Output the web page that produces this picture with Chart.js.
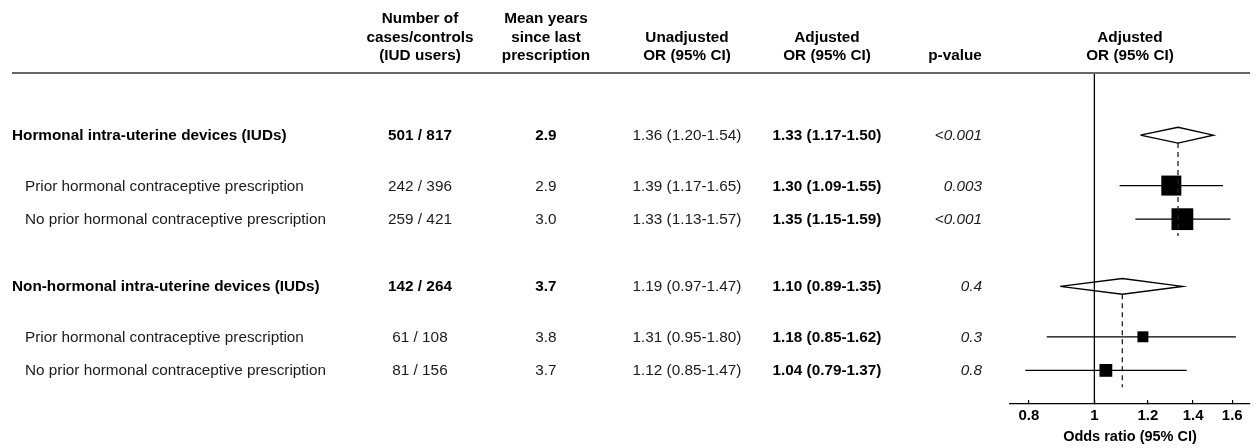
<!DOCTYPE html>
<html>
<head>
<meta charset="utf-8">
<script src="https://cdn.jsdelivr.net/npm/chart.js@4.4.1/dist/chart.umd.min.js"></script>
<style>
  html, body { margin: 0; padding: 0; background: #fff; }
  #wrap { position: relative; width: 1256px; height: 448px; overflow: hidden;
          font-family: "Liberation Sans", Arial, sans-serif; font-size: 15.3px; color: #1a1a1a; }
  #plot { position: absolute; left: 0; top: 0; }
  .t { position: absolute; white-space: nowrap; line-height: 18px; }
  .hd { font-weight: bold; color: #000; text-align: center; line-height: 18.3px; }
  .rule { position: absolute; left: 12px; width: 1238px; top: 71.5px; height: 2px; background: #666; }
</style>
</head>
<body>
<div id="wrap">
  <canvas id="plot" width="1256" height="448"></canvas>
  <div class="rule"></div>
</div>
<script>
// ---- data ----
const rowLabels = [
  'Hormonal intra-uterine devices (IUDs)',
  'Prior hormonal contraceptive prescription',
  'No prior hormonal contraceptive prescription',
  'Non-hormonal intra-uterine devices (IUDs)',
  'Prior hormonal contraceptive prescription',
  'No prior hormonal contraceptive prescription'
];
const rowIsGroup = [true, false, false, true, false, false];
const cases      = [501, 242, 259, 142, 61, 81];
const controls   = [817, 396, 421, 264, 108, 156];
const meanYears  = [2.9, 2.9, 3.0, 3.7, 3.8, 3.7];
const unadjOR    = [1.36, 1.39, 1.33, 1.19, 1.31, 1.12];
const unadjLo    = [1.20, 1.17, 1.13, 0.97, 0.95, 0.85];
const unadjHi    = [1.54, 1.65, 1.57, 1.47, 1.80, 1.47];
const adjOR      = [1.33, 1.30, 1.35, 1.10, 1.18, 1.04];
const adjLo      = [1.17, 1.09, 1.15, 0.89, 0.85, 0.79];
const adjHi      = [1.50, 1.55, 1.59, 1.35, 1.62, 1.37];
const pValues    = ['<0.001', '0.003', '<0.001', '0.4', '0.3', '0.8'];
const xTicks     = [0.8, 1, 1.2, 1.4, 1.6];

const headers = [
  { lines: ['Number of', 'cases/controls', '(IUD users)'], x: 420 },
  { lines: ['Mean years', 'since last', 'prescription'], x: 546 },
  { lines: ['Unadjusted', 'OR (95% CI)'], x: 687 },
  { lines: ['Adjusted', 'OR (95% CI)'], x: 827 },
  { lines: ['p-value'], x: 955 },
  { lines: ['Adjusted', 'OR (95% CI)'], x: 1130 }
];

// ---- layout of rows (vertical units on the y scale) ----
const rowPos = [];
{
  let p = 0;
  rowIsGroup.forEach((g, i) => {
    if (i > 0) p += g ? 2 : (rowIsGroup[i - 1] ? 1.5 : 1);
    rowPos.push(p);
  });
}
const Y_TOP = -1.85, Y_BOTTOM = 8;
const DIAMOND_HALF = 0.235;
const SQUARE_SCALE = 1.8;          // square side in px per unit of precision (1 / SE)
const FONT = '"Liberation Sans", Arial, sans-serif';
const fmt2 = v => v.toFixed(2);
const ciText = (o, l, h) => `${fmt2(o)} (${fmt2(l)}-${fmt2(h)})`;

// ---- datasets ----
const datasets = [];
// line of no effect
datasets.push({
  data: [{ x: 1, y: Y_TOP }, { x: 1, y: Y_BOTTOM }],
  showLine: true, borderColor: '#000', borderWidth: 1.3, pointRadius: 0
});

const squarePts = [], squareRad = [];
rowIsGroup.forEach((g, i) => {
  const r = rowPos[i];
  if (g) {
    // pooled estimate: diamond
    datasets.push({
      data: [
        { x: adjLo[i], y: r }, { x: adjOR[i], y: r - DIAMOND_HALF },
        { x: adjHi[i], y: r }, { x: adjOR[i], y: r + DIAMOND_HALF },
        { x: adjLo[i], y: r }
      ],
      showLine: true, borderColor: '#000', borderWidth: 1.4, pointRadius: 0,
      fill: false, tension: 0
    });
    // dashed guide down through the subgroup rows
    let j = i;
    while (j + 1 < rowIsGroup.length && !rowIsGroup[j + 1]) j++;
    datasets.push({
      data: [{ x: adjOR[i], y: r + DIAMOND_HALF }, { x: adjOR[i], y: rowPos[j] + 0.5 }],
      showLine: true, borderColor: '#222', borderWidth: 1.3, borderDash: [5, 4], pointRadius: 0
    });
  } else {
    // confidence interval whisker
    datasets.push({
      data: [{ x: adjLo[i], y: r }, { x: adjHi[i], y: r }],
      showLine: true, borderColor: '#000', borderWidth: 1.3, pointRadius: 0
    });
    const se = Math.log(adjHi[i] / adjLo[i]) / 3.92;
    const side = SQUARE_SCALE / se;
    squarePts.push({ x: adjOR[i], y: r });
    squareRad.push(side / (2 * Math.SQRT1_2));
  }
});
datasets.push({
  data: squarePts, pointStyle: 'rect', pointRadius: squareRad,
  pointBackgroundColor: '#000', pointBorderWidth: 0, showLine: false
});

const chart = new Chart(document.getElementById('plot'), {
  type: 'scatter',
  data: { datasets },
  options: {
    responsive: false,
    animation: false,
    events: [],
    layout: { autoPadding: false, padding: { left: 1010, right: 6, top: 73, bottom: 0 } },
    plugins: { legend: { display: false }, tooltip: { enabled: false } },
    scales: {
      x: {
        type: 'logarithmic', position: 'bottom', min: 0.75, max: 1.70,
        afterBuildTicks: s => { s.ticks = xTicks.map(v => ({ value: v })); },
        afterFit: s => { s.height = 44; s.paddingLeft = 0; s.paddingRight = 0; },
        grid: { drawOnChartArea: false, drawTicks: true, tickLength: -4, color: '#000', lineWidth: 1.2 },
        border: { display: true, color: '#000', width: 1.3 },
        ticks: {
          color: '#000', padding: 7, maxRotation: 0, autoSkip: false,
          font: { family: FONT, size: 15, weight: 'bold' },
          callback: v => String(v)
        },
        title: {
          display: true, text: 'Odds ratio (95% CI)', color: '#000',
          font: { family: FONT, size: 14.5, weight: 'bold' },
          padding: { top: 0, bottom: 2 }
        }
      },
      y: { type: 'linear', reverse: true, min: Y_TOP, max: Y_BOTTOM, display: false }
    }
  }
});

// ---- table text, aligned to the chart's row scale ----
const wrap = document.getElementById('wrap');
function addText(text, x, y, align, style) {
  const d = document.createElement('div');
  d.className = 't';
  d.textContent = text;
  const tx = align === 'center' ? '-50%' : align === 'right' ? '-100%' : '0';
  d.style.left = x + 'px';
  d.style.top = y + 'px';
  d.style.transform = `translate(${tx}, -50%)`;
  Object.assign(d.style, style || {});
  wrap.appendChild(d);
}

headers.forEach(h => {
  const d = document.createElement('div');
  d.className = 't hd';
  d.innerHTML = h.lines.map(s => s.replace(/&/g, '&amp;').replace(/</g, '&lt;')).join('<br>');
  const lh = 18.3;
  d.style.left = h.x + 'px';
  d.style.top = (55 + lh / 2 - h.lines.length * lh) + 'px';
  d.style.transform = 'translateX(-50%)';
  wrap.appendChild(d);
});

const yScale = chart.scales.y;
rowLabels.forEach((lab, i) => {
  const y = yScale.getPixelForValue(rowPos[i]);
  const g = rowIsGroup[i];
  const bold = g ? { fontWeight: 'bold', color: '#000' } : {};
  addText(lab, g ? 12 : 25, y, 'left', bold);
  addText(`${cases[i]} / ${controls[i]}`, 420, y, 'center', bold);
  addText(meanYears[i].toFixed(1), 546, y, 'center', bold);
  addText(ciText(unadjOR[i], unadjLo[i], unadjHi[i]), 687, y, 'center');
  addText(ciText(adjOR[i], adjLo[i], adjHi[i]), 827, y, 'center', { fontWeight: 'bold', color: '#000' });
  addText(pValues[i], 982, y, 'right', { fontStyle: 'italic' });
});
</script>
</body>
</html>
